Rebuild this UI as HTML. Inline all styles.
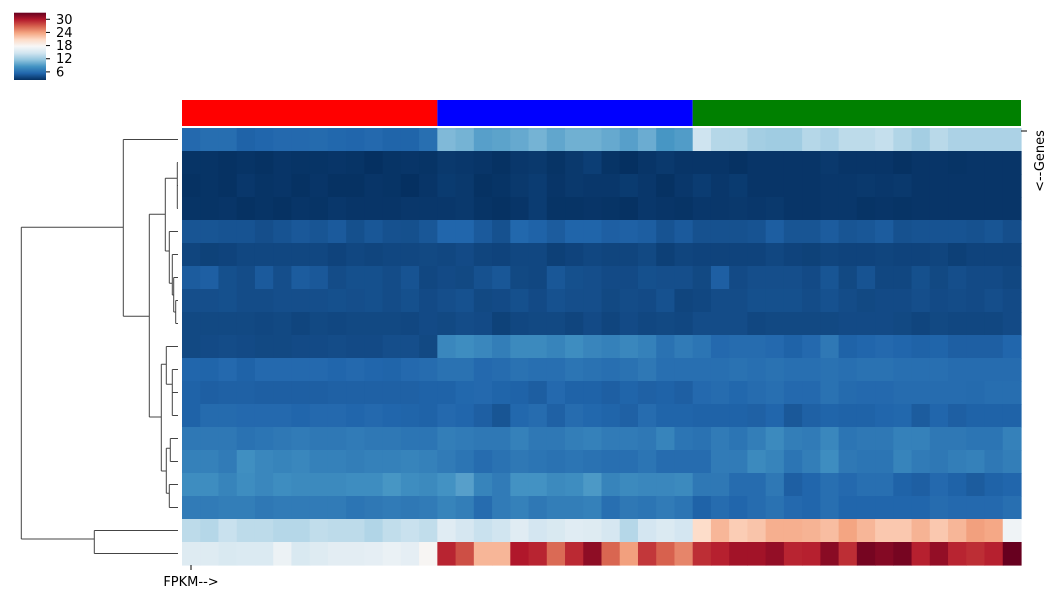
<!DOCTYPE html>
<html><head><meta charset="utf-8"><style>
body{margin:0;background:#fff;width:1054px;height:598px;overflow:hidden}
svg text{font-family:"DejaVu Sans","Liberation Sans",sans-serif;font-size:13px;fill:#000}
</style></head><body>
<svg id="chart" width="1054" height="598" xmlns="http://www.w3.org/2000/svg">
<defs><linearGradient id="cbg" x1="0" y1="1" x2="0" y2="0">
<stop offset="0" stop-color="#053061"/><stop offset="0.1" stop-color="#2166ac"/><stop offset="0.2" stop-color="#4393c3"/><stop offset="0.3" stop-color="#92c5de"/><stop offset="0.4" stop-color="#d1e5f0"/><stop offset="0.5" stop-color="#f7f7f7"/><stop offset="0.6" stop-color="#fddbc7"/><stop offset="0.7" stop-color="#f4a582"/><stop offset="0.8" stop-color="#d6604d"/><stop offset="0.9" stop-color="#b2182b"/><stop offset="1" stop-color="#67001f"/>
</linearGradient></defs>
<g id="colorbar"></g>
<g id="groups"></g>
<g id="cells"></g>
<g id="dendro" stroke="#444" stroke-width="1" fill="none">
<path d="M21.3 227.3V539M21.3 227.3H123.3M21.3 539H94.3
M94.3 530.5V553.5M94.3 530.5H178M94.3 553.5H178
M123.3 139.5V316.3M123.3 139.5H178M123.3 316.3H149.3
M149.3 214.3V417M149.3 214.3H165.3M149.3 417H161.3
M165.3 178.3V251M165.3 178.3H177.3M177.3 162.5V208.5M177.3 162.5H178M177.3 185.5H178M177.3 208.5H178
M165.3 251H169.3M169.3 231.5V283.3M169.3 231.5H178M169.3 283.3H172.3
M172.3 254.5V295M172.3 254.5H178M172.3 295H173.7M173.7 277.5V312M173.7 277.5H178M173.7 312H175.7M175.7 300.5V323.5M175.7 300.5H178M175.7 323.5H178
M161.3 364.3V471M161.3 364.3H166.3M166.3 346.5V384.3M166.3 346.5H178M166.3 384.3H172.3M172.3 369.5V415.5M172.3 369.5H178M172.3 392.5H178M172.3 415.5H178
M161.3 471H166.3M166.3 448.3V493.3M166.3 448.3H170.3M170.3 438.5V461.5M170.3 438.5H178M170.3 461.5H178M166.3 493.3H169.3M169.3 484.5V507.5M169.3 484.5H178M169.3 507.5H178"/>
</g>
<line x1="1021" y1="131" x2="1027" y2="131" stroke="#000"/>
<text transform="translate(1044,161) rotate(-90)" text-anchor="middle">&lt;--Genes</text>
<line x1="191" y1="565" x2="191" y2="570" stroke="#000"/>
<text x="191" y="586" text-anchor="middle">FPKM--&gt;</text>
</svg>
<script>
const groupNames=["red","blue","green"];
const groupSizes=[14,14,18];
const groupColors=["#ff0000","#0000ff","#008000"];
const cbTicks=[6,12,18,24,30];
const vMin=2.3, vMax=33;
const rows=[
[5.6,5.9,5.9,5.2,5.4,5.6,5.6,5.7,5.5,5.4,5.6,5.3,5.3,6.0, 10.8,10.4,9.2,9.4,9.8,10.4,9.6,10.2,10.2,9.8,9.2,10.0,8.6,9.0, 14.5,13.2,13.2,12.4,12.2,12.2,13.2,12.8,13.6,13.6,14.0,13.0,12.4,13.4,12.8,12.8,12.8,12.8],
[2.5,2.5,2.4,2.5,2.4,2.6,2.5,2.5,2.6,2.5,2.3,2.5,2.6,2.5, 2.8,2.7,2.6,2.4,2.7,2.8,2.5,2.8,3.1,2.5,2.3,2.6,2.8,2.6, 2.6,2.6,2.4,2.6,2.6,2.6,2.6,2.8,2.6,2.6,2.6,2.4,2.6,2.6,2.5,2.6,2.6,2.6],
[2.4,2.5,2.4,2.7,2.5,2.6,2.4,2.6,2.4,2.4,2.6,2.5,2.3,2.6, 2.9,2.8,2.4,2.5,2.8,3.0,2.6,2.8,2.7,2.7,2.9,2.7,2.4,2.7, 3.0,2.7,2.9,2.6,2.6,2.6,2.6,2.7,2.7,2.8,2.7,2.8,2.6,2.6,2.6,2.6,2.6,2.6],
[2.5,2.5,2.6,2.4,2.5,2.4,2.6,2.5,2.7,2.6,2.6,2.6,2.7,2.7, 2.7,2.8,2.5,2.4,2.6,3.0,2.5,2.5,2.6,2.5,2.4,2.7,2.6,2.5, 2.7,2.7,2.8,2.7,2.8,2.6,2.6,2.7,2.7,2.5,2.6,2.5,2.6,2.6,2.6,2.6,2.6,2.6],
[4.4,4.4,4.3,4.3,4.0,4.3,4.6,4.4,4.7,4.1,4.5,4.2,4.1,4.5, 5.4,5.4,4.7,4.2,5.5,5.2,4.8,5.3,5.3,5.0,5.1,4.9,4.3,4.7, 4.2,4.2,4.2,4.3,4.9,4.4,4.4,4.8,4.4,4.5,4.8,4.2,4.3,4.3,4.3,4.2,4.4,4.0],
[3.5,3.3,3.4,3.6,3.6,3.6,3.6,3.6,3.4,3.6,3.5,3.6,3.6,3.7, 3.6,3.8,3.5,3.4,3.6,3.6,3.2,3.4,3.6,3.5,3.5,3.7,3.2,3.5, 3.4,3.4,3.4,3.4,3.6,3.4,3.3,3.5,3.4,3.4,3.5,3.4,3.4,3.5,3.2,3.4,3.4,3.4],
[4.8,5.0,4.1,3.9,4.7,4.0,4.8,4.6,3.9,4.1,4.1,3.9,4.3,3.6, 3.8,3.7,4.2,4.5,3.7,3.6,4.5,4.1,4.0,3.8,3.8,4.1,4.0,4.0, 3.7,5.0,3.8,4.0,4.0,4.0,3.8,4.4,3.7,4.3,3.6,3.6,4.1,3.7,4.0,3.8,3.8,3.6],
[4.0,4.0,4.1,3.9,3.9,4.0,4.0,4.0,4.1,4.0,4.1,3.9,4.1,3.8, 4.0,4.2,3.7,3.8,4.1,3.8,4.2,4.0,4.0,3.7,3.9,3.8,4.2,3.5, 3.6,3.9,3.9,4.1,4.1,4.1,3.9,4.2,3.9,3.7,3.8,3.8,4.0,3.8,3.9,3.8,4.0,3.8],
[3.7,3.7,3.7,3.7,3.6,3.7,3.5,3.7,3.6,3.7,3.7,3.7,3.6,3.8, 3.7,3.9,3.8,3.3,3.6,3.7,3.7,3.5,3.8,3.5,3.8,3.6,3.7,3.6, 3.9,3.9,3.9,3.6,3.7,3.7,3.7,3.7,3.8,3.8,3.8,3.7,3.5,3.7,3.6,3.6,3.6,3.8],
[3.7,3.8,3.9,3.8,3.7,3.7,3.8,3.8,3.9,3.8,3.8,4.0,4.0,3.7, 7.6,8.0,7.6,7.0,7.8,7.8,7.4,8.0,7.5,7.2,7.6,7.2,6.2,6.8, 6.4,5.6,5.8,5.8,5.6,5.2,5.6,6.6,5.2,5.4,5.6,5.4,5.2,5.3,5.0,5.0,5.0,5.4],
[5.4,5.3,5.6,5.2,5.6,5.6,5.6,5.6,5.4,5.6,5.4,5.3,5.6,5.8, 6.2,6.2,5.6,5.8,6.2,6.0,6.0,6.4,6.2,6.0,6.2,6.6,6.0,6.0, 6.0,6.0,6.2,6.0,6.2,6.0,6.0,6.2,6.0,6.2,6.2,6.0,6.0,6.0,5.8,5.8,5.8,5.8],
[5.2,5.0,5.1,5.1,5.0,5.0,5.0,5.0,5.1,5.1,5.1,5.1,5.1,5.2, 5.2,5.5,5.6,5.3,5.2,4.9,5.6,5.2,5.2,5.0,5.3,5.1,5.2,5.0, 5.6,5.8,5.5,5.8,6.0,5.6,5.6,6.2,5.7,5.6,5.6,5.8,5.8,5.8,5.8,5.7,5.9,5.9],
[5.2,5.7,5.7,5.6,5.6,5.6,5.4,5.6,5.6,5.4,5.6,5.4,5.3,5.2, 5.6,5.4,5.0,4.4,5.5,5.8,5.1,5.8,5.5,5.3,5.1,5.8,5.3,5.3, 5.2,5.2,5.2,5.1,5.4,4.6,5.1,5.3,5.2,5.2,5.4,5.5,4.8,5.4,5.0,5.2,5.2,5.2],
[6.6,6.6,6.6,6.2,6.4,6.6,6.8,6.6,6.6,6.8,6.6,6.6,6.4,6.4, 7.0,6.8,6.6,6.6,7.2,6.6,6.6,7.0,7.2,6.8,6.8,6.6,7.4,6.4, 6.2,6.8,6.4,7.0,7.8,7.0,6.8,7.6,6.4,6.6,6.6,7.2,7.2,6.6,6.6,6.4,6.4,7.2],
[7.2,7.2,6.8,8.2,7.6,7.4,7.6,7.2,7.2,7.0,7.2,7.2,7.4,7.2, 6.8,6.4,5.8,6.2,6.6,6.4,6.2,6.4,6.2,6.0,6.0,6.4,5.8,5.8, 5.8,6.8,6.8,7.8,7.4,6.4,7.0,8.0,6.6,6.4,6.4,7.4,6.8,6.6,7.0,7.2,6.6,7.0],
[8.0,8.0,7.4,8.0,7.6,8.0,7.8,7.8,7.8,8.0,8.0,8.6,8.0,7.8, 8.4,9.2,7.4,6.8,8.4,8.4,7.8,8.0,8.8,7.4,7.8,7.6,7.6,7.8, 6.6,6.6,5.8,5.8,6.6,5.0,5.4,6.0,5.6,6.0,6.0,5.2,5.0,5.6,5.2,4.8,5.2,5.4],
[6.8,6.8,7.0,7.0,6.6,6.8,6.8,6.8,6.8,6.4,6.6,6.8,6.6,6.8, 7.4,7.0,5.8,6.8,7.2,6.6,7.0,7.0,7.2,6.0,6.6,6.4,6.8,6.4, 5.2,5.8,5.4,5.8,6.2,5.6,5.4,6.0,5.4,5.4,5.4,5.4,5.4,5.8,5.6,5.6,5.6,6.0],
[13.6,13.2,14.2,13.6,13.6,13.2,13.2,13.8,13.6,13.6,13.0,13.8,14.2,13.8, 15.8,15.0,14.2,14.6,15.8,14.8,15.2,15.8,15.6,15.0,13.2,14.8,15.4,14.8, 20.5,22.8,21.5,22.0,23.2,23.2,23.0,22.4,23.8,22.8,21.8,21.8,23.0,21.8,22.8,24.0,23.6,17.0],
[15.6,15.6,15.2,15.4,15.4,16.8,15.2,15.6,16.0,16.0,16.2,16.6,16.2,17.9, 29.4,27.6,22.8,22.8,30.0,29.4,26.4,29.2,31.4,26.6,24.0,28.6,26.8,25.2, 29.0,29.6,30.6,30.6,31.2,29.4,29.6,31.6,29.0,32.4,31.8,32.4,29.6,31.2,29.4,29.0,29.6,33.0]
];
const stops=["#053061","#2166ac","#4393c3","#92c5de","#d1e5f0","#f7f7f7","#fddbc7","#f4a582","#d6604d","#b2182b","#67001f"].map(h=>[1,3,5].map(i=>parseInt(h.substr(i,2),16)));
function cmap(v){let t=Math.max(0,Math.min(1,(v-vMin)/(vMax-vMin)))*10;let i=Math.min(9,Math.floor(t)),f=t-i;const a=stops[i],b=stops[i+1];return "rgb("+a.map((c,k)=>Math.round(c+(b[k]-c)*f)).join(",")+")";}
const NS="http://www.w3.org/2000/svg";
const X0=182,X1=1021,Y0=128,Y1=565;
const nCols=groupSizes.reduce((a,b)=>a+b,0);
const cw=(X1-X0)/nCols, rh=(Y1-Y0)/rows.length;
const xAt=c=>X0+c*cw, yAt=r=>Y0+r*rh;
const cells=document.getElementById('cells');
rows.forEach((row,r)=>row.forEach((v,c)=>{
 const e=document.createElementNS(NS,'rect');
 e.setAttribute('x',xAt(c));e.setAttribute('y',yAt(r));e.setAttribute('width',cw+0.6);e.setAttribute('height',rh+0.6);e.setAttribute('fill',cmap(v));
 
 
 cells.appendChild(e);
}));
const groups=document.getElementById('groups');
let start=0;
groupSizes.forEach((n,g)=>{
 const e=document.createElementNS(NS,'rect');
 e.setAttribute('x',xAt(start));e.setAttribute('y',100);e.setAttribute('width',n*cw);e.setAttribute('height',26);e.setAttribute('fill',groupColors[g]);
 
 
 groups.appendChild(e);start+=n;
});
const cb=document.getElementById('colorbar');
const CB_T=12.7,CB_B=80;
const cbY=v=>CB_B-(v-vMin)/(vMax-vMin)*(CB_B-CB_T);
const cr=document.createElementNS(NS,'rect');
cr.setAttribute('x',14);cr.setAttribute('y',CB_T);cr.setAttribute('width',32);cr.setAttribute('height',CB_B-CB_T);cr.setAttribute('fill','url(#cbg)');


cb.appendChild(cr);
cbTicks.forEach(t=>{
 const l=document.createElementNS(NS,'line');
 l.setAttribute('x1',46);l.setAttribute('x2',50);l.setAttribute('y1',cbY(t));l.setAttribute('y2',cbY(t));l.setAttribute('stroke','#000');
 
 
 cb.appendChild(l);
 const tx=document.createElementNS(NS,'text');
 tx.setAttribute('x',56);tx.setAttribute('y',cbY(t)+4.5);tx.textContent=t;
 
 
 cb.appendChild(tx);
});
</script>
</body></html>
